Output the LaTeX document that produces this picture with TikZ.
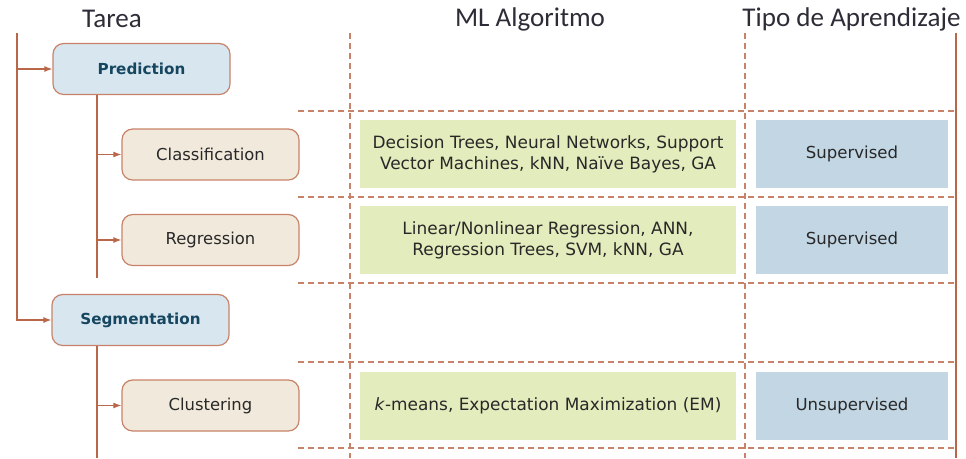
\documentclass[tikz,border=0pt]{standalone}
\usepackage{fontspec}
\setmainfont{DejaVu Sans}
\newfontfamily\headfont{Carlito}
\usepackage{tikz}
\usetikzlibrary{arrows.meta}
\definecolor{rust}{RGB}{186,102,72}
\definecolor{rimline}{RGB}{200,130,105}
\definecolor{taskblue}{RGB}{216,231,239}
\definecolor{taskbeige}{RGB}{241,234,220}
\definecolor{algogreen}{RGB}{227,236,188}
\definecolor{typeblue}{RGB}{194,214,228}
\definecolor{tealtext}{RGB}{22,70,96}
\definecolor{inktext}{RGB}{40,40,40}
\definecolor{headtext}{RGB}{45,45,55}
\tikzset{
  head/.style={font=\headfont\fontsize{20.3}{23}\selectfont, text=headtext, inner sep=0pt},
  task/.style={
    draw=rimline, line width=0.9pt, rounded corners=8pt,
    minimum width=132.75pt, minimum height=38.25pt,
    font=\fontsize{12.3}{15}\selectfont, text=inktext
  },
  main task/.style={task, fill=taskblue, font=\bfseries\fontsize{11.4}{15}\selectfont, text=tealtext},
  sub task/.style={task, fill=taskbeige},
  algo/.style={
    fill=algogreen, minimum width=282pt, minimum height=51pt,
    align=center, font=\fontsize{12.7}{15.7}\selectfont, text=inktext
  },
  kind/.style={
    fill=typeblue, minimum width=144pt, minimum height=51pt,
    font=\fontsize{12.4}{15}\selectfont, text=inktext
  },
  link/.style={draw=rust, line width=0.9pt},
  arr/.style={link, -{Latex[length=6pt,width=4.5pt]}},
  grid/.style={draw=rimline, line width=0.9pt, dash pattern={on 4.5pt off 3pt}}
}

\begin{document}
\begin{tikzpicture}[x=0.75pt,y=0.75pt,yscale=-1,xscale=1]
\useasboundingbox (0,0) rectangle (966,458);

% column headers
\node [head] (hTask) at (112,19) {Tarea};
\node [head] (hAlgo) at (530,19) {ML Algoritmo};
\node [head] (hKind) at (851.5,19) {Tipo de Aprendizaje};

% dashed grid
\draw [grid] (350,33) -- (350,458);
\draw [grid] (745,33) -- (745,458);
\foreach \yy in {111,197,283,362,448}
  \draw [grid] (298,\yy) -- (956,\yy);
\draw [link] (956,33) -- (956,458);

% task boxes
\node [main task] (pred) at (141.5,69) {Prediction};
\node [sub task] (class) at (210.5,154.5) {Classification};
\node [sub task] (regr) at (210.5,240) {Regression};
\node [main task] (seg) at (140.5,320) {Segmentation};
\node [sub task] (clus) at (210.5,405.5) {Clustering};

% algorithm boxes
\node [algo] (aClass) at (548,154) {Decision Trees, Neural Networks, Support\\Vector Machines, kNN, Na\"ive Bayes, GA};
\node [algo] (aRegr) at (548,240) {Linear/Nonlinear Regression, ANN,\\Regression Trees, SVM, kNN, GA};
\node [algo] (aClus) at (548,406) {\textit{k}-means, Expectation Maximization (EM)};

% learning type boxes
\node [kind] (kClass) at (852,154) {Supervised};
\node [kind] (kRegr) at (852,240) {Supervised};
\node [kind] (kClus) at (852,406) {Unsupervised};

% connectors
\coordinate (root) at (17,33);
\coordinate (pbot) at (97,278);
\coordinate (sbot) at (97,458);
\draw [arr] (root) |- (seg.west);
\draw [arr] (root) |- (pred.west);
\draw [link] (pbot |- pred.south) -- (pbot);
\draw [arr] (pbot |- class.west) -- (class.west);
\draw [arr] (pbot |- regr.west) -- (regr.west);
\draw [link] (sbot |- seg.south) -- (sbot);
\draw [arr] (sbot |- clus.west) -- (clus.west);

\end{tikzpicture}
\end{document}
